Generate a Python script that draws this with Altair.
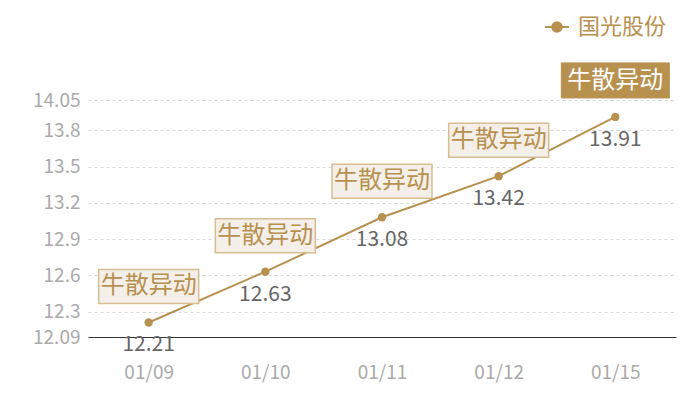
import altair as alt
import pandas as pd

dates = ["01/09", "01/10", "01/11", "01/12", "01/15"]
values = [12.21, 12.63, 13.08, 13.42, 13.91]
tags = ["牛散异动", "牛散异动", "牛散异动", "牛散异动", "牛散异动"]
highlight = [0, 0, 0, 0, 1]
series_name = "国光股份"
y_ticks = [12.09, 12.3, 12.6, 12.9, 13.2, 13.5, 13.8, 14.05]

df = pd.DataFrame({"date": dates, "value": values, "tag": tags,
                   "hl": highlight, "series": [series_name] * len(dates)})

TAN = "#b8914f"
FONT = "Noto Sans CJK SC"

x = alt.X("date:O", scale=alt.Scale(type="point", padding=0.52),
          axis=alt.Axis(title=None, labelAngle=0, ticks=False, grid=False,
                        domainColor="#333333", domainWidth=1.2,
                        labelColor="#aaaaaa", labelFontSize=19, labelFont=FONT,
                        labelPadding=26))
y = alt.Y("value:Q", scale=alt.Scale(domain=[12.09, 14.05], zero=False, nice=False),
          axis=alt.Axis(title=None, values=y_ticks, labelExpr="'' + datum.value",
                        ticks=False, domain=False, grid=True, gridColor="#d6d6d6",
                        gridDash=[3, 3], gridWidth=1, labelColor="#aaaaaa",
                        labelFontSize=19, labelFont=FONT, labelPadding=8))

base = alt.Chart(df)

line = base.mark_line(strokeWidth=2, color=TAN).encode(
    x=x, y=y,
    color=alt.Color("series:N", scale=alt.Scale(range=[TAN]),
                    legend=alt.Legend(title=None, orient="none", legendX=456, legendY=-86,
                                      symbolType="M-1,0 L1,0 M-0.4,0 A0.4,0.4 0 1,1 0.4,0 A0.4,0.4 0 1,1 -0.4,0 Z",
                                      symbolSize=576, symbolStrokeWidth=2,
                                      symbolFillColor=TAN, symbolStrokeColor=TAN,
                                      labelFontSize=22, labelColor=TAN, labelFont=FONT,
                                      labelOffset=8, labelLimit=200)))
points = base.mark_point(filled=True, size=70, color=TAN, opacity=1).encode(x=x, y=y)

values_txt = base.mark_text(dy=23, fontSize=21, color="#666666", font=FONT).encode(
    x=x, y=y, text="value:N")

light_box = base.transform_filter("datum.hl == 0").mark_rect(
    fill="#f4efe8", stroke="#d6bd92", strokeWidth=1.5,
    xOffset=-50, x2Offset=50, yOffset=-53, y2Offset=-19).encode(
    x=x, x2="date:O", y=y, y2="value:Q")
dark_box = base.transform_filter("datum.hl == 1").mark_rect(
    fill=TAN, stroke=TAN, strokeWidth=1,
    xOffset=-54, x2Offset=54, yOffset=-54, y2Offset=-19).encode(
    x=x, x2="date:O", y=y, y2="value:Q")

light_txt = base.transform_filter("datum.hl == 0").mark_text(
    dy=-36, fontSize=24, color=TAN, font=FONT, baseline="middle").encode(
    x=x, y=y, text="tag:N")
dark_txt = base.transform_filter("datum.hl == 1").mark_text(
    dy=-36, fontSize=24, color="#ffffff", font=FONT, baseline="middle").encode(
    x=x, y=y, text="tag:N")

chart = alt.layer(line, points, values_txt, light_box, dark_box, light_txt, dark_txt).properties(
    width=588, height=237,
    autosize=alt.AutoSizeParams(type="none"),
    padding={"left": 80, "top": 92, "right": 16, "bottom": 55},
).configure(font=FONT).configure_view(stroke="transparent", strokeWidth=0).configure_axisY(domain=False).configure_axisX(grid=False)

chart.save("out.html", embed_options={"renderer": "svg", "actions": False})
